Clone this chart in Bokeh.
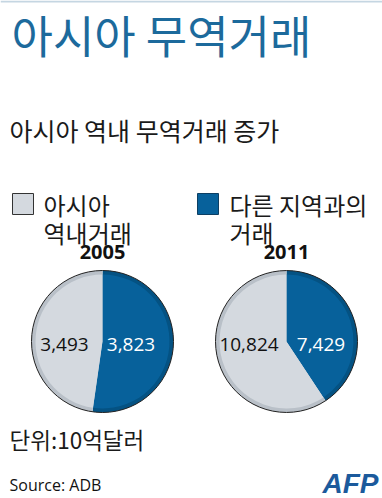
import math
from bokeh.plotting import figure
from bokeh.models import Range1d, Label, ColumnDataSource
from bokeh.embed import file_html
from bokeh.resources import INLINE

# ---- data ----
years = ["2005", "2011"]
intra_asia = [3493, 10824]      # 아시아 역내거래 (10억달러)
other_region = [3823, 7429]     # 다른 지역과의 거래
legend_gray = ["아시아", "역내거래"]
legend_blue = ["다른 지역과의", "거래"]
title = "아시아 무역거래"
subtitle = "아시아 역내 무역거래 증가"
unit = "단위:10억달러"
source = "Source: ADB"

KR = "Noto Sans CJK KR"
LAT = "Open Sans"
BLUE = "#07619b"
BLUE_D = "#045283"
GRAY = "#d4d9df"
GRAY_D = "#b9c0c8"
TITLE_C = "#1c6a9c"

W, H = 382, 498
def fx(X): return X
def fy(Y): return H - Y

p = figure(width=W, height=H, output_backend="svg", toolbar_location=None,
           x_range=Range1d(0, W), y_range=Range1d(0, H), min_border=0)
p.axis.visible = False
p.grid.visible = False
p.outline_line_color = None
p.background_fill_color = "white"

def lab(text, X, Y, size, color="#111111", font=KR, align="left", style="normal"):
    p.add_layout(Label(x=fx(X), y=fy(Y), text=text, text_font=font,
                       text_font_size=f"{size}px", text_color=color,
                       text_align=align, text_baseline="middle",
                       text_font_style=style))

# thin top rule
p.quad(left=[0], right=[W], bottom=[fy(2)], top=[fy(0)],
       fill_color="#c5d6e2", line_color=None)

lab(title, 11, 34, 45, TITLE_C)
lab(subtitle, 9, 129, 25, "#1a1a1a")

# legend
p.quad(left=[fx(12)], right=[fx(33)], bottom=[fy(214)], top=[fy(193)],
       fill_color=GRAY, line_color="#333333", line_width=1)
p.quad(left=[fx(197)], right=[fx(218)], bottom=[fy(214)], top=[fy(193)],
       fill_color=BLUE, line_color="#0d3f63", line_width=1)
lab(legend_gray[0], 43, 204, 24, "#1a1a1a")
lab(legend_gray[1], 43, 232, 24, "#1a1a1a")
lab(legend_blue[0], 229, 204, 24, "#1a1a1a")
lab(legend_blue[1], 229, 232, 24, "#1a1a1a")

# pies
centers_X = [102, 286]
center_Y = 341
R = 71
gray_off = [-38, -37.5]
blue_off = [28.5, 34.5]
for i, yr in enumerate(years):
    total = intra_asia[i] + other_region[i]
    f = other_region[i] / total
    cx, cy = fx(centers_X[i]), fy(center_Y)
    a0 = math.pi / 2
    a1 = math.pi / 2 - 2 * math.pi * f
    src = ColumnDataSource(dict(
        start=[a1, a0], end=[a0, a1 + 2 * math.pi],
        dark=[BLUE_D, GRAY_D], light=[BLUE, GRAY]))
    p.wedge(x=cx, y=cy, radius=R, start_angle="start", end_angle="end",
            fill_color="dark", line_color=None, source=src)
    p.wedge(x=cx, y=cy, radius=R - 4, start_angle="start", end_angle="end",
            fill_color="light", line_color=None, source=src)
    p.circle(x=[cx], y=[cy], radius=R, fill_color=None, line_color="#222222",
             line_width=1)
    lab(yr, centers_X[i], 251, 20, "#111111", LAT, "center", "bold")
    lab(f"{intra_asia[i]:,}", centers_X[i] + gray_off[i], 344, 19, "#111111", LAT, "center")
    lab(f"{other_region[i]:,}", centers_X[i] + blue_off[i], 344, 19, "white", LAT, "center")

lab(unit, 9, 438, 22.5, "#1a1a1a")
lab(source, 9, 484, 16, "#111111", LAT)
lab("AFP", 350, 483, 28, "#1b5a9c", "Liberation Sans", "center", "bold italic")

open("out.html", "w").write(file_html(p, INLINE))
